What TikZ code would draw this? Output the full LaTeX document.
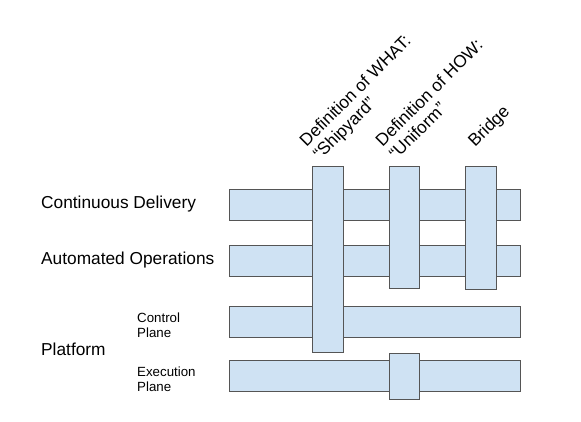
\documentclass[tikz,border=0pt]{standalone}
\usepackage{fontspec}
\setmainfont{Liberation Sans}
\usepackage{tikz}
\usetikzlibrary{positioning}
\definecolor{BarBlue}{HTML}{CFE2F3}
\definecolor{BarEdge}{HTML}{555555}
\tikzstyle{Bar}=[rectangle,anchor=north west,inner sep=0pt,fill=BarBlue,draw=BarEdge,line width=1pt]

\begin{document}
\begin{tikzpicture}[x=1pt,y=-1pt]
		\tikzstyle{Big}=[anchor=west,inner sep=0pt,font=\fontsize{17.3}{20}\selectfont]
		\tikzstyle{Small}=[anchor=west,inner sep=0pt,align=left,font=\fontsize{13.3}{15}\selectfont]
		\tikzstyle{Head}=[anchor=base west,inner sep=0pt,align=left,rotate=45,font=\fontsize{17.3}{19}\selectfont]

		\useasboundingbox (0,0) rectangle (581,421);

		\def\barL{229}
		\def\barW{291}
		\def\barH{31}
		\def\colTop{166}

		% layers, left to right
		\foreach \name/\top in {CD/189,AO/245,CP/306,EP/360}
		{
			\node [Bar,minimum width=\barW,minimum height=\barH] (\name) at (\barL,\top) {};
		}

		% columns, on top of the layers
		\foreach \name/\colX/\colW/\colH in {Shipyard/312/31/186,Uniform/389/30/122,Bridge/465/31/123}
		{
			\node [Bar,minimum width=\colW,minimum height=\colH] (\name) at (\colX,\colTop) {};
		}
		\node [Bar,minimum width=30,minimum height=46] (EPbox) at (389,353) {};

		\node [Big] (CDlabel) at (41,204.5) {Continuous Delivery};
		\node [Big] (AOlabel) at (41,260.5) {Automated Operations};
		\node [Big] (Platform) at (41,349) {Platform};
		\node [Small] (CPlabel) at (137,325) {Control\\Plane};
		\node [Small] (EPlabel) at (137,379) {Execution\\Plane};

		% base anchor = second line of the heading
		\node [Head] (WHAT) at (320,161) {Definition of WHAT:\\“Shipyard”};
		\node [Head] (HOW) at (396,161) {Definition of HOW:\\“Uniform”};
		\node [Head] (BridgeLabel) at (475,148) {Bridge};
\end{tikzpicture}
\end{document}
